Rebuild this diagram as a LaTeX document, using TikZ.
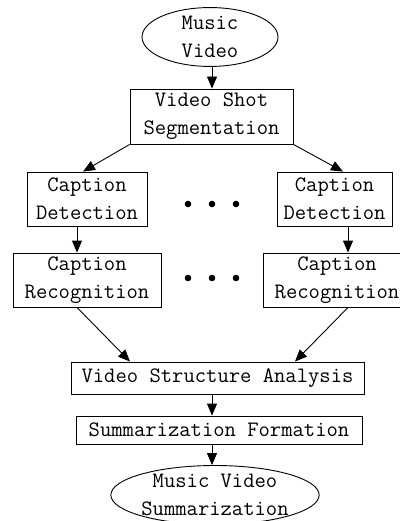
\documentclass[tikz,border=0pt]{standalone}
\usepackage{fontspec}
\setmainfont{Latin Modern Mono}
\usetikzlibrary{arrows.meta,shapes.geometric}
\begin{document}
\begin{tikzpicture}[x=1pt,y=-1pt,
  every node/.style={inner sep=0pt,align=center,font=\fontsize{22pt}{28pt}\selectfont},
  boxnode/.style={draw,line width=0.9pt,rectangle},
  ovalnode/.style={draw,line width=0.9pt,ellipse},
  arr/.style={line width=0.9pt,-{Triangle[length=12pt,width=10pt]}},
  dotmark/.style={fill=black,draw=none}]
\useasboundingbox (0,0) rectangle (399,521);
\node[ovalnode,minimum width=136pt,minimum height=54pt] (mv) at (210,37) {Music\\Video};
\node[boxnode,minimum width=163pt,minimum height=55pt] (vss) at (211.5,116.5) {Video Shot\\Segmentation};
\node[boxnode,minimum width=120pt,minimum height=54pt] (cd1) at (87,199) {Caption\\Detection};
\node[boxnode,minimum width=115pt,minimum height=54pt] (cd2) at (334.5,199) {Caption\\Detection};
\node[boxnode,minimum width=148pt,minimum height=54pt] (cr1) at (87,280) {Caption\\Recognition};
\node[boxnode,minimum width=148pt,minimum height=54pt,text width=148pt] (cr2) at (337,280) {Caption\\Recognition};
\node[boxnode,minimum width=293pt,minimum height=32pt] (vsa) at (217.5,378) {Video Structure Analysis};
\node[boxnode,minimum width=286pt,minimum height=28pt] (sf) at (219,430) {Summarization Formation};
\node[ovalnode,minimum width=204pt,minimum height=50pt] (mvs) at (215,495) {Music Video\\Summarization};
\foreach \yy in {204,278}{
  \fill[dotmark] (188,\yy) circle (3.3pt);
  \fill[dotmark] (212,\yy) circle (3.3pt);
  \fill[dotmark] (236,\yy) circle (3.3pt);
}
\draw[arr] ([xshift=2pt]mv.south) -- ([xshift=0.5pt]vss.north);
\draw[arr] (vss.south west) -- ([xshift=-4pt]cd1.north);
\draw[arr] (vss.south east) -- ([xshift=8.5pt]cd2.north);
\draw[arr] ([xshift=-10pt]cd1.south) -- ([xshift=-10pt]cr1.north);
\draw[arr] ([xshift=13.5pt]cd2.south) -- ([xshift=11pt]cr2.north);
\draw[arr] ([xshift=-10pt]cr1.south) -- ([xshift=-87.5pt]vsa.north);
\draw[arr] ([xshift=11pt]cr2.south) -- ([xshift=77.5pt]vsa.north);
\draw[arr] ([xshift=-5.5pt]vsa.south) -- ([xshift=-7pt]sf.north);
\draw[arr] ([xshift=-7pt]sf.south) -- ([xshift=-3pt]mvs.north);
\end{tikzpicture}
\end{document}
